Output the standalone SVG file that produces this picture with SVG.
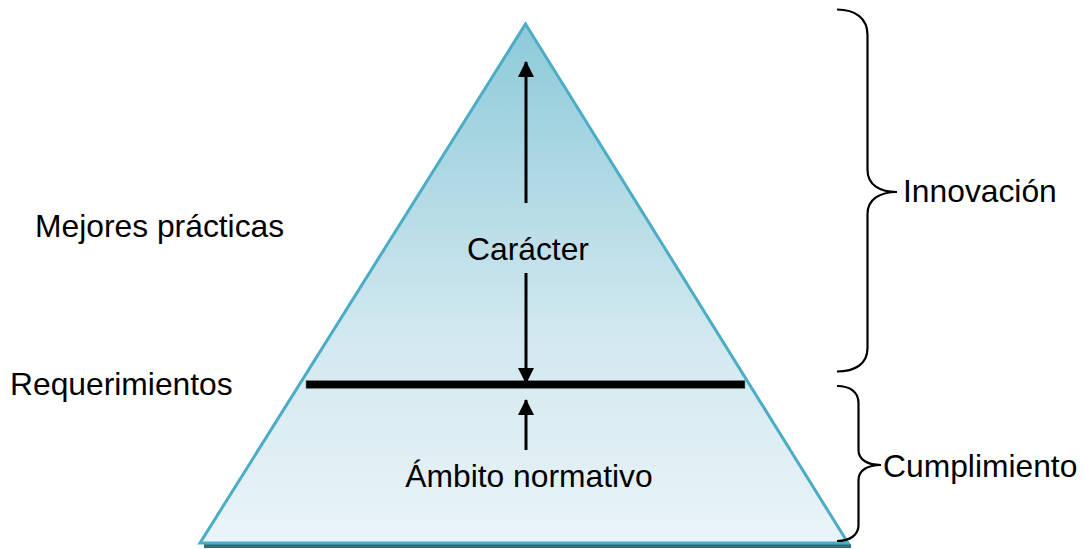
<svg xmlns="http://www.w3.org/2000/svg" width="1084" height="549" viewBox="0 0 1084 549">
<style>
text{font-family:"Liberation Sans",Arial,sans-serif;font-size:31.8px;fill:#000}
.arr{stroke:#000;stroke-width:3;fill:none}
.brace{stroke:#000;stroke-width:2.2;fill:none}
</style>
<defs>
<linearGradient id="g" x1="0" y1="0" x2="0" y2="1">
<stop offset="0" stop-color="#8dcad9"/>
<stop offset="0.6" stop-color="#d2e8ef"/>
<stop offset="1" stop-color="#e9f4f8"/>
</linearGradient>
<marker id="ah" markerWidth="16" markerHeight="16" viewBox="0 0 16 16" refX="15" refY="8" orient="auto" markerUnits="userSpaceOnUse">
<path d="M0,0 L16,8 L0,16 Z" fill="#000"/>
</marker>
</defs>
<g id="pyramid">
<line x1="204" y1="546" x2="851" y2="546" stroke="#2f6b78" stroke-width="4"/>
<polygon points="525.5,24 200,543 848,543" fill="url(#g)" stroke="#4bacc6" stroke-width="3" stroke-linejoin="miter"/>
<rect x="306" y="380.5" width="439" height="8" fill="#000" stroke="#7a8c92" stroke-width="0.6"/>
</g>
<g id="connectors">
<line class="arr" x1="526" y1="203" x2="526" y2="62" marker-end="url(#ah)"/>
<line class="arr" x1="526" y1="273" x2="526" y2="383" marker-end="url(#ah)"/>
<line class="arr" x1="526" y1="450" x2="526" y2="400" marker-end="url(#ah)"/>
</g>
<g id="brace-innovacion">
<path class="brace" d="M837,9.5 C855,9.5 867.5,18 867.5,35 L867.5,170 C867.5,185 880,192 897,192 C880,192 867.5,199 867.5,214 L867.5,348 C867.5,364 855,371.5 837,371.5"/>
<text x="903" y="202">Innovación</text>
</g>
<g id="brace-cumplimiento">
<path class="brace" d="M837,386 C850,386 858.5,392 858.5,403 L858.5,450 C858.5,460 868,465 881,465 C868,465 858.5,470 858.5,480 L858.5,525 C858.5,535 850,541 837,541"/>
<text x="883" y="477">Cumplimiento</text>
</g>
<g id="label-mejores"><text x="35" y="237">Mejores prácticas</text></g>
<g id="label-requerimientos"><text x="10" y="395">Requerimientos</text></g>
<g id="label-caracter"><text x="528" y="260" text-anchor="middle">Carácter</text></g>
<g id="label-ambito"><text x="529" y="487" text-anchor="middle">Ámbito normativo</text></g>
</svg>
